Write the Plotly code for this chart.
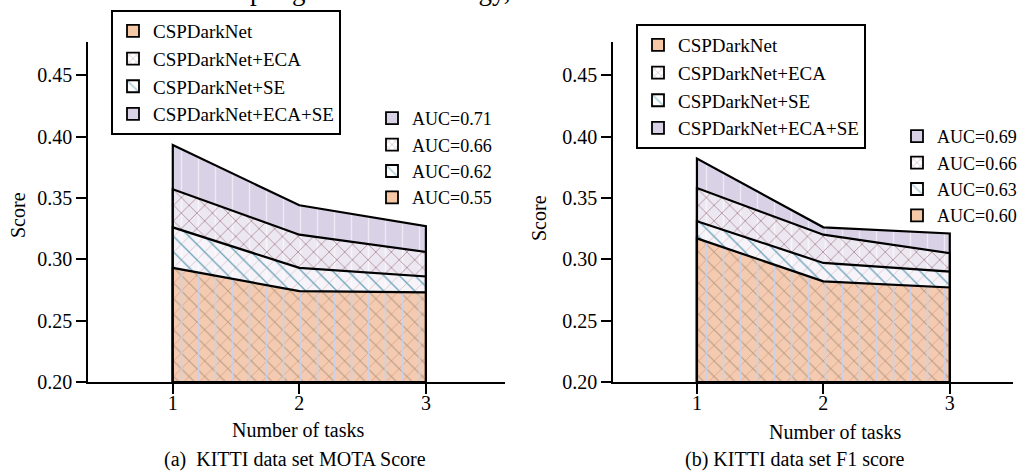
import plotly.graph_objects as go

# ---------------- data ----------------
tasks = [1, 2, 3]
series_names = ["CSPDarkNet", "CSPDarkNet+ECA", "CSPDarkNet+SE", "CSPDarkNet+ECA+SE"]

mota_csp = [0.293, 0.274, 0.273]
mota_se = [0.326, 0.293, 0.286]
mota_eca = [0.357, 0.320, 0.306]
mota_ecase = [0.393, 0.344, 0.327]
mota_auc = ["AUC=0.55", "AUC=0.62", "AUC=0.66", "AUC=0.71"]  # csp, se, eca, eca+se

f1_csp = [0.317, 0.282, 0.277]
f1_se = [0.331, 0.297, 0.290]
f1_eca = [0.358, 0.320, 0.305]
f1_ecase = [0.382, 0.326, 0.321]
f1_auc = ["AUC=0.60", "AUC=0.63", "AUC=0.66", "AUC=0.69"]

y_ticks = [0.20, 0.25, 0.30, 0.35, 0.40, 0.45]
x_ticks = [1, 2, 3]
BASE = 0.20

FONT = "Liberation Serif"
FS = 20
LFS = 19
AFS = 18

# ---------------- styles ----------------
LAV = "rgb(217,209,229)"
layers = {
    "CSPDarkNet+ECA+SE": [dict(shape="|", fgcolor="white", bgcolor=LAV, fgopacity=0.55, size=17, solidity=0.08)],
    "CSPDarkNet+ECA": [dict(shape="x", fgcolor="rgb(160,118,130)", bgcolor="rgba(255,255,255,0.5)",
                            fgopacity=1, size=11, solidity=0.12)],
    "CSPDarkNet+SE": [dict(shape="\\", fgcolor="rgb(110,168,192)", bgcolor="rgba(255,255,255,0.5)",
                           fgopacity=1, size=11, solidity=0.12)],
    "CSPDarkNet": [dict(shape="x", fgcolor="rgb(185,120,95)", bgcolor="rgba(242,182,138,0.66)",
                        fgopacity=0.5, size=11, solidity=0.1),
                   dict(shape="|", fgcolor="rgb(198,210,240)", bgcolor="rgba(0,0,0,0)",
                        fgopacity=0.9, size=17, solidity=0.1)],
}
legend_fill = {
    "CSPDarkNet+ECA+SE": LAV,
    "CSPDarkNet+ECA": "white",
    "CSPDarkNet+SE": "white",
    "CSPDarkNet": "rgb(246,200,165)",
}
legend_pat = {
    "CSPDarkNet+ECA+SE": dict(shape=""),
    "CSPDarkNet+ECA": dict(shape="x", fgcolor="rgb(160,118,130)", size=6, solidity=0.25),
    "CSPDarkNet+SE": dict(shape="\\", fgcolor="rgb(110,168,192)", size=9, solidity=0.25),
    "CSPDarkNet": dict(shape=""),
}

fig = go.Figure()


def poly(vals):
    xs = [tasks[0]] + list(tasks) + [tasks[-1], tasks[0]]
    ys = [BASE] + list(vals) + [BASE, BASE]
    return xs, ys


def legend_entry(fig, nm, label, leg, xa, ya):
    fig.add_trace(go.Bar(x=[None], y=[None], name=label, legend=leg, xaxis=xa, yaxis=ya,
                         marker=dict(color=legend_fill[nm], pattern=legend_pat[nm],
                                     line=dict(color="black", width=1.8)),
                         hoverinfo="skip"))


def add_panel(fig, data, aucs, xa, ya, name_legend, auc_legend):
    order = [("CSPDarkNet+ECA+SE", data[3]),
             ("CSPDarkNet+ECA", data[2]),
             ("CSPDarkNet+SE", data[1]),
             ("CSPDarkNet", data[0])]
    for nm, vals in order:
        xs, ys = poly(vals)
        pats = layers[nm]
        for i, p in enumerate(pats):
            last = i == len(pats) - 1
            fig.add_trace(go.Scatter(x=xs, y=ys, mode="lines", fill="toself", name=nm,
                                     line=dict(color="black", width=2.2 if last else 0), showlegend=False,
                                     fillcolor="rgba(0,0,0,0)", fillpattern=p,
                                     xaxis=xa, yaxis=ya, hoverinfo="skip"))
    for nm in series_names:
        legend_entry(fig, nm, nm, name_legend, xa, ya)
    auc_map = dict(zip(series_names, [aucs[0], aucs[2], aucs[1], aucs[3]]))
    for nm in ["CSPDarkNet+ECA+SE", "CSPDarkNet+ECA", "CSPDarkNet+SE", "CSPDarkNet"]:
        legend_entry(fig, nm, auc_map[nm], auc_legend, xa, ya)


add_panel(fig, [mota_csp, mota_se, mota_eca, mota_ecase], mota_auc, "x", "y", "legend", "legend2")
add_panel(fig, [f1_csp, f1_se, f1_eca, f1_ecase], f1_auc, "x2", "y2", "legend3", "legend4")

W, H = 1030, 473


def px(v):
    return v / W


def py(v):
    return 1 - v / H


xaxis_common = dict(tickvals=x_ticks, ticks="outside", ticklen=10, tickwidth=1.5, tickcolor="black",
                    showline=True, linewidth=2, linecolor="black", showgrid=False, zeroline=False,
                    ticklabelstandoff=-8,
                    tickfont=dict(family=FONT, size=FS, color="black"))
yaxis_common = dict(tickvals=y_ticks, tickformat=".2f", ticks="outside", ticklen=10, tickwidth=1.5,
                    tickcolor="black", showline=True, linewidth=1.5, linecolor="black", showgrid=False,
                    zeroline=False, range=[0.2, 0.477],
                    tickfont=dict(family=FONT, size=FS, color="black"))

legend_name_common = dict(bgcolor="white", bordercolor="black", borderwidth=2,
                          font=dict(family=FONT, size=LFS, color="black"),
                          xanchor="left", yanchor="top", traceorder="normal", itemclick=False)
legend_auc_common = dict(bgcolor="rgba(0,0,0,0)", borderwidth=0,
                         font=dict(family=FONT, size=AFS, color="black"),
                         xanchor="left", yanchor="top", traceorder="normal", itemclick=False)

fig.update_layout(
    width=W, height=H,
    margin=dict(l=0, r=0, t=0, b=0, autoexpand=False),
    paper_bgcolor="white", plot_bgcolor="white",
    font=dict(family=FONT, size=FS, color="black"),
    barmode="overlay",
    xaxis=dict(domain=[px(88), px(505)], range=[0.33, 3.625], anchor="y", **xaxis_common),
    yaxis=dict(domain=[py(382), py(42)], anchor="x", **yaxis_common),
    xaxis2=dict(domain=[px(613), px(1013)], range=[0.336, 3.5], anchor="y2", **xaxis_common),
    yaxis2=dict(domain=[py(382), py(42)], anchor="x2", **yaxis_common),
    legend=dict(x=px(111), y=py(10), **legend_name_common),
    legend2=dict(x=px(372), y=py(100), **legend_auc_common),
    legend3=dict(x=px(636), y=py(24), **legend_name_common),
    legend4=dict(x=px(897), y=py(118), **legend_auc_common),
    showlegend=True,
)

ann_font = dict(family=FONT, size=FS, color="black")
annotations = [
    dict(text="Score", x=px(18), y=py(215), textangle=-90),
    dict(text="Score", x=px(539), y=py(218), textangle=-90),
    dict(text="Number of tasks", x=px(298), y=py(430)),
    dict(text="Number of tasks", x=px(835), y=py(432)),
    dict(text="(a)  KITTI data set MOTA Score", x=px(295), y=py(459)),
    dict(text="(b) KITTI data set F1 score", x=px(794), y=py(459)),
]
for a in annotations:
    fig.add_annotation(xref="paper", yref="paper", showarrow=False, font=ann_font,
                       xanchor="center", yanchor="middle", **a)
fig.add_annotation(text="the feature decoupling and other strategy,", xref="paper", yref="paper",
                   x=px(513), y=py(8), xanchor="right", yanchor="bottom", showarrow=False,
                   font=dict(family=FONT, size=27, color="black"))

fig.write_html("out.html", config={"displayModeBar": False},
               post_script="document.body.style.margin='0';")
